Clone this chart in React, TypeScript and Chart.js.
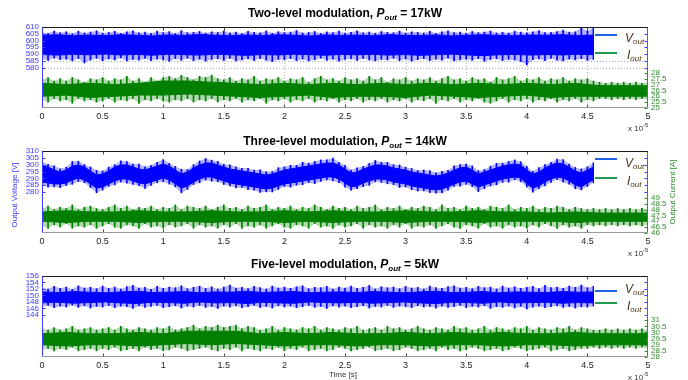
import React, { useEffect, useRef } from "react";
import { Chart, registerables } from "chart.js";

Chart.register(...registerables);

// ---------------- data ----------------
const X_TICKS = [0, 0.5, 1, 1.5, 2, 2.5, 3, 3.5, 4, 4.5, 5];
const STEP_FINE = 0.05; // sampling grid of the envelopes (x 10^-5 s)
const STEP_V_CORE = 0.13;
const STEP_V2_CORE = 0.05;
const STEP_I_CORE = 0.2;

// Plot 1 : Two-level modulation, 17 kW
const TITLE_1 = "Two-level modulation, ";
const POWER_1 = "17kW";
const V1_TICKS = [580, 585, 590, 595, 600, 605, 610];
const I1_TICKS = [25, 25.5, 26, 26.5, 27, 27.5, 28];
const V1_CORE_HI = [603.8,604.2,603.5,604.0,603.6,604.3,603.9,603.4,604.1,603.7,604.4,603.8,603.5,604.0,603.6,604.2,603.9,603.3,604.1,603.7,604.0,603.5,604.3,603.8,603.6,604.1,603.4,603.9,604.2,603.7,603.5,604.0,603.8,604.3,603.6,603.9];
const V1_CORE_LO = [589.6,589.2,589.8,589.4,590.0,589.3,589.7,589.1,589.9,589.5,589.2,589.8,589.4,589.0,589.6,589.3,589.9,589.5,589.1,589.7,589.4,589.8,589.2,589.6,589.0,589.5,589.9,589.3,588.8,589.4,589.7,589.2,589.6,589.3,589.8,589.5];
const V1_PEAK_HI = [606.2,605.4,607.0,605.8,606.5,605.1,606.9,605.6,606.3,607.2,605.5,606.0,606.8,605.3,606.4,607.1,605.7,606.2,605.4,606.9,605.9,606.6,605.2,607.3,605.8,606.1,606.7,605.5,606.4,605.9,607.0,605.6,606.3,605.2,606.8,606.0,605.7,607.1,605.4,606.5,605.9,606.2,607.4,605.6,606.0,606.7,605.3,606.4,605.8,606.9,605.5,606.1,607.2,605.7,606.3,605.4,606.6,606.0,605.8,607.0,605.5,606.4,606.1,605.6,606.8,605.3,606.5,607.1,605.9,606.2,605.4,606.7,605.8,606.3,607.0,605.6,606.1,605.5,606.9,606.2,605.7,606.4,607.3,605.9,606.0,606.6,607.8,606.2,606.5,609.6,607.1,609.9];
const V1_PEAK_LO = [586.4,585.2,587.0,585.8,586.1,584.9,586.6,583.3,585.5,586.8,585.0,586.3,585.6,587.1,584.8,586.0,585.4,586.7,585.1,586.2,585.7,584.6,586.5,585.3,586.9,585.0,586.1,584.7,585.9,586.4,585.2,586.8,584.9,585.6,586.3,585.1,586.6,585.4,584.5,586.0,585.8,586.5,585.0,586.2,584.8,585.7,586.9,585.3,586.1,584.6,585.9,586.4,585.2,586.7,585.5,584.9,586.0,585.6,586.8,585.1,586.3,584.7,585.8,586.5,585.0,586.2,585.4,586.9,584.8,585.7,586.1,585.3,586.6,584.6,585.9,586.4,585.1,586.0,585.5,584.4,581.9,585.8,586.3,585.0,586.7,585.4,584.9,586.2,585.6,586.5,585.3,586.0];
const I1_CORE_HI = [27.1,27.0,27.1,27.0,27.1,27.3,27.3,27.2,27.1,27.0,27.1,27.0,27.1,27.0,27.1,27.0,27.1,27.0,27.1,27.0,27.1,27.0,27.1,26.9,26.9,26.9];
const I1_CORE_LO = [26.0,26.1,25.9,26.0,26.1,26.1,26.2,26.1,26.0,25.9,26.0,26.1,25.9,26.0,26.0,25.9,26.1,26.0,25.9,26.0,26.1,25.9,26.0,26.0,26.0,26.0];
const I1_PEAK_HI = [27.4,27.6,27.3,27.5,27.3,27.6,27.4,27.2,27.5,27.4,27.6,27.3,27.5,27.4,27.7,27.3,27.5,27.2,27.6,27.3,27.6,27.7,27.5,27.8,27.6,27.4,27.7,27.6,27.8,27.5,27.4,27.6,27.3,27.5,27.4,27.7,27.3,27.5,27.4,27.6,27.3,27.5,27.4,27.6,27.2,27.5,27.7,27.4,27.5,27.3,27.6,27.4,27.5,27.3,27.7,27.4,27.6,27.2,27.5,27.4,27.6,27.3,27.5,27.4,27.6,27.3,27.5,27.7,27.4,27.5,27.3,27.6,27.4,27.5,27.2,27.6,27.4,27.5,27.7,27.3,27.5,27.4,27.6,27.3,27.5,27.4,27.6,27.3,27.5,27.4,27.5,27.3,27.2,27.1,27.2,27.1,27.2,27.1,27.2,27.1,27.2];
const I1_PEAK_LO = [25.7,25.5,25.8,25.6,25.7,25.4,25.8,25.6,25.7,25.5,25.6,25.8,25.5,25.7,25.6,25.8,25.4,25.7,25.6,25.8,25.6,25.5,25.7,25.6,25.8,25.5,25.7,25.6,25.8,25.5,25.7,25.6,25.8,25.5,25.7,25.6,25.8,25.4,25.7,25.6,25.8,25.5,25.7,25.6,25.8,25.5,25.7,25.6,25.8,25.5,25.7,25.6,25.8,25.5,25.7,25.6,25.8,25.5,25.7,25.6,25.8,25.5,25.7,25.6,25.8,25.4,25.7,25.6,25.8,25.5,25.7,25.6,25.8,25.5,25.4,25.6,25.8,25.5,25.7,25.6,25.8,25.5,25.7,25.6,25.8,25.5,25.7,25.6,25.8,25.5,25.7,25.6,25.8,25.8,25.7,25.8,25.7,25.8,25.7,25.8,25.7];

// Plot 2 : Three-level modulation, 14 kW
const TITLE_2 = "Three-level modulation, ";
const POWER_2 = "14kW";
const V2_TICKS = [280, 285, 290, 295, 300, 305, 310];
const I2_TICKS = [46, 46.5, 47, 47.5, 48, 48.5, 49];
const V2_CORE_HI = [299.8,298.3,296.1,294.6,296.1,299.0,299.8,298.3,295.4,292.4,293.2,295.4,298.3,299.8,299.8,298.3,296.8,296.1,297.6,299.0,300.5,299.0,296.1,293.2,294.6,297.6,299.8,301.2,301.2,299.8,298.3,296.8,296.1,295.4,294.6,293.9,293.2,292.4,293.2,294.6,296.1,296.8,297.6,298.3,299.0,299.8,300.5,301.2,301.2,299.8,296.8,293.9,294.6,296.8,298.3,299.8,299.8,299.0,297.6,296.8,296.1,294.6,293.9,293.2,292.4,291.7,292.4,293.9,296.1,297.6,298.3,296.1,293.2,294.6,296.1,297.6,299.0,299.8,300.5,299.8,296.1,293.2,294.6,297.6,299.8,301.2,300.5,298.3,295.4,293.9,296.1,298.3];
const V2_CORE_LO = [287.3,286.6,285.9,285.9,286.6,288.8,290.2,288.8,285.9,282.9,283.7,285.9,288.1,289.5,289.5,288.1,286.6,285.9,287.3,288.8,290.2,288.8,285.9,282.9,284.4,287.3,289.5,291.0,291.0,289.5,288.1,286.6,285.9,285.1,284.4,283.7,282.9,282.2,282.9,284.4,285.9,286.6,287.3,288.1,288.8,289.5,290.2,291.0,291.0,289.5,286.6,283.7,284.4,286.6,288.1,289.5,289.5,288.8,287.3,286.6,285.9,284.4,283.7,282.9,282.2,281.5,282.2,283.7,285.9,287.3,288.1,285.9,283.7,285.1,286.6,288.1,289.5,290.2,291.0,290.2,285.9,282.9,284.4,287.3,289.5,291.0,290.2,288.1,285.1,283.7,286.6,288.8];
const V2_PEAK_HI = [302.4,300.2,299.2,297.0,298.1,302.3,302.5,300.1,298.3,295.8,295.4,298.2,300.0,302.8,302.3,300.4,300.4,298.4,299.5,301.7,303.7,301.0,298.7,296.7,296.4,300.0,302.7,304.5,303.3,302.4,300.3,299.9,298.5,297.3,297.4,296.1,296.2,294.9,295.0,297.8,298.4,299.5,299.5,301.7,301.1,302.4,303.5,303.6,304.8,301.8,299.6,296.1,297.7,298.7,300.9,303.1,301.8,301.7,300.0,299.8,298.2,297.2,295.7,296.1,295.6,294.0,295.1,295.9,299.2,300.1,300.5,299.1,295.6,296.5,298.9,301.0,301.1,302.4,303.5,302.1,298.8,295.2,297.8,300.1,301.7,304.0,303.8,300.5,298.0,296.9,298.5,301.4];
const V2_PEAK_LO = [284.9,283.6,283.8,283.2,284.7,285.6,287.7,286.8,283.1,279.4,281.4,284.1,285.2,287.3,286.4,285.5,284.6,282.6,284.9,286.9,287.5,285.8,283.7,279.3,281.9,285.4,286.7,288.7,287.9,287.5,285.5,284.4,282.9,283.3,281.7,281.3,279.7,280.1,280.0,281.9,284.0,283.5,285.0,285.3,286.8,286.1,287.7,288.8,288.1,286.9,283.6,281.3,282.5,283.9,284.9,287.4,287.0,286.0,285.3,283.3,283.7,281.7,280.7,280.8,279.6,279.2,279.3,281.3,284.1,284.2,285.6,283.9,280.3,282.5,284.4,285.2,287.1,287.2,288.9,287.5,283.6,279.8,282.4,284.5,287.0,289.1,287.2,285.7,282.4,281.5,284.0,286.8];
const I2_CORE_HI = [47.8,47.9,47.8,47.8,47.9,47.8,47.8,47.9,47.8,47.8,47.9,47.8,47.9,47.8,47.8,47.9,47.8,47.8,47.9,47.8,47.8,47.7,47.8,47.7,47.7,47.7];
const I2_CORE_LO = [47.0,46.9,47.0,47.0,46.9,47.0,47.0,46.9,47.0,47.0,46.9,47.0,46.9,47.0,47.0,46.9,47.0,47.0,46.9,47.0,47.0,47.0,46.9,47.0,47.0,47.0];
const I2_PEAK_HI = [48.1,48.3,48.0,48.2,48.1,48.4,48.0,48.2,48.3,48.1,48.0,48.2,48.4,48.1,48.3,48.0,48.2,48.1,48.3,48.0,48.2,48.1,48.4,48.0,48.3,48.2,48.1,48.3,48.0,48.2,48.4,48.1,48.2,48.0,48.3,48.1,48.2,48.4,48.0,48.2,48.1,48.3,48.0,48.2,48.1,48.4,48.2,48.0,48.3,48.1,48.2,48.0,48.3,48.1,48.2,48.4,48.0,48.2,48.1,48.3,48.0,48.2,48.1,48.3,48.2,48.0,48.4,48.1,48.2,48.0,48.3,48.1,48.2,48.0,48.3,48.2,48.1,48.4,48.0,48.2,48.1,48.3,48.0,48.2,48.1,48.3,48.2,48.0,48.2,48.1,48.0,48.1,48.0,48.1,48.0,48.1,48.0,48.1,48.0,48.1,48.0];
const I2_PEAK_LO = [46.6,46.4,46.7,46.5,46.8,46.4,46.6,46.5,46.7,46.4,46.6,46.8,46.5,46.4,46.7,46.6,46.4,46.8,46.5,46.6,46.4,46.7,46.5,46.6,46.8,46.4,46.7,46.5,46.6,46.4,46.7,46.5,46.8,46.4,46.6,46.5,46.7,46.4,46.6,46.8,46.5,46.4,46.7,46.6,46.4,46.8,46.5,46.6,46.4,46.7,46.5,46.6,46.8,46.4,46.7,46.5,46.6,46.4,46.7,46.5,46.8,46.4,46.6,46.5,46.7,46.4,46.6,46.8,46.5,46.4,46.7,46.6,46.4,46.8,46.5,46.6,46.4,46.7,46.5,46.6,46.4,46.7,46.5,46.8,46.6,46.4,46.7,46.5,46.6,46.4,46.7,46.6,46.7,46.6,46.7,46.6,46.7,46.6,46.7,46.6,46.7];

// Plot 3 : Five-level modulation, 5 kW
const TITLE_3 = "Five-level modulation, ";
const POWER_3 = "5kW";
const V3_TICKS = [144, 146, 148, 150, 152, 154, 156];
const I3_TICKS = [28, 28.5, 29, 29.5, 30, 30.5, 31];
const V3_CORE_HI = [151.1,150.9,151.2,151.0,150.8,151.1,151.3,150.9,151.0,151.2,150.8,151.1,151.0,151.3,150.9,151.1,151.2,150.8,151.0,151.1,150.9,151.2,151.0,150.8,151.1,151.3,150.9,151.0,151.2,150.8,151.1,151.0,150.9,151.2,151.0,151.1];
const V3_CORE_LO = [147.7,147.9,147.6,147.8,148.0,147.7,147.5,147.9,147.8,147.6,148.0,147.7,147.8,147.5,147.9,147.7,147.6,148.0,147.8,147.7,147.9,147.6,147.8,148.0,147.7,147.5,147.9,147.8,147.6,148.0,147.7,147.8,147.9,147.6,147.8,147.7];
const V3_PEAK_HI = [152.4,152.0,152.8,152.2,152.6,151.9,153.0,152.3,152.5,152.1,152.9,152.2,152.6,152.0,152.7,153.1,152.3,152.5,151.9,152.8,152.2,152.6,152.4,153.0,152.1,152.5,152.9,152.2,152.7,152.0,152.6,153.2,152.3,152.5,152.1,152.8,152.4,152.0,152.9,152.3,152.6,152.2,152.7,153.0,152.1,152.5,152.4,152.8,152.0,152.6,152.3,152.9,152.2,152.5,153.1,152.0,152.7,152.4,152.6,152.1,152.8,152.3,152.5,152.0,152.9,152.4,152.2,152.7,153.0,152.3,152.5,152.1,152.8,152.4,152.6,152.0,152.9,152.3,152.7,152.2,152.5,152.8,152.1,153.1,152.4,152.6,152.2,152.9,152.5,153.2,152.4,152.8];
const V3_PEAK_LO = [146.5,146.9,146.2,146.7,146.4,147.0,146.3,146.8,146.1,146.6,146.4,146.9,146.2,146.7,146.5,146.0,146.8,146.3,146.6,146.9,146.2,146.5,146.8,146.1,146.7,146.4,146.9,146.3,146.6,146.0,146.7,146.4,146.8,146.2,146.5,146.9,146.3,146.6,146.1,146.8,146.4,146.7,146.2,146.5,146.9,146.3,146.6,146.0,146.8,146.4,146.7,146.2,146.5,146.8,146.1,146.6,146.4,146.9,146.3,146.7,146.5,146.2,146.8,146.4,146.6,146.1,146.7,146.3,146.5,146.9,146.2,146.6,146.4,146.8,146.0,146.5,146.3,146.7,146.1,146.6,145.8,146.4,146.7,146.2,146.5,146.8,146.3,146.6,146.1,146.5,146.4,146.7];
const I3_CORE_HI = [29.9,30.0,29.9,29.9,30.0,29.9,30.1,30.1,30.1,29.9,30.0,29.9,30.0,29.9,29.9,30.0,29.9,30.0,29.9,30.0,29.9,29.9,30.0,29.9,29.9,29.9];
const I3_CORE_LO = [29.0,28.9,29.0,29.0,28.9,29.0,29.1,29.0,29.1,29.0,28.9,29.0,29.0,28.9,29.0,29.0,28.9,29.0,29.0,28.9,29.0,29.0,28.9,29.0,29.0,29.0];
const I3_PEAK_HI = [30.3,30.2,30.4,30.2,30.3,30.5,30.2,30.3,30.4,30.2,30.3,30.4,30.2,30.5,30.3,30.2,30.4,30.3,30.2,30.4,30.3,30.5,30.2,30.3,30.4,30.6,30.3,30.5,30.4,30.6,30.4,30.5,30.6,30.3,30.5,30.4,30.2,30.3,30.5,30.2,30.4,30.3,30.2,30.4,30.3,30.5,30.2,30.4,30.3,30.2,30.4,30.3,30.5,30.2,30.3,30.4,30.2,30.5,30.3,30.4,30.2,30.3,30.5,30.3,30.2,30.4,30.3,30.2,30.5,30.3,30.4,30.2,30.3,30.5,30.2,30.4,30.3,30.2,30.4,30.3,30.5,30.2,30.4,30.3,30.2,30.4,30.3,30.5,30.2,30.4,30.3,30.2,30.2,30.3,30.2,30.3,30.2,30.3,30.2,30.3,30.2];
const I3_PEAK_LO = [28.6,28.7,28.5,28.7,28.6,28.8,28.5,28.6,28.7,28.5,28.7,28.6,28.8,28.5,28.6,28.7,28.5,28.8,28.6,28.7,28.5,28.6,28.8,28.7,28.5,28.6,28.7,28.8,28.6,28.5,28.7,28.6,28.8,28.5,28.7,28.6,28.5,28.7,28.6,28.8,28.5,28.7,28.6,28.8,28.5,28.6,28.7,28.5,28.6,28.8,28.7,28.5,28.6,28.7,28.8,28.5,28.6,28.7,28.5,28.6,28.8,28.7,28.5,28.6,28.7,28.5,28.8,28.6,28.7,28.5,28.6,28.8,28.7,28.5,28.6,28.7,28.5,28.6,28.8,28.7,28.5,28.6,28.7,28.8,28.5,28.6,28.7,28.5,28.6,28.7,28.7,28.8,28.7,28.8,28.7,28.8,28.7,28.8,28.7,28.8,28.7];

// ---------------- styles ----------------
const FONT = "'Liberation Sans', Arial, Helvetica, sans-serif";
const BLUE = "#0000ff";
const BLUE_HALO = "rgba(0,0,255,0.3)";
const GREEN = "#007f00";
const GREEN_HALO = "rgba(0,127,0,0.3)";
const BLUE_AXIS = "#3b3bff";
const GREEN_AXIS = "#2f8f2f";
const LEG_BLUE = "#1f5fe8";
const LEG_GREEN = "#1f9a4f";
const LEG_TEXT = "#4a3414";

const PLOTS = [
  { id: 1, top: 0, height: 134, padTop: 27, xAxisH: 26, title: TITLE_1, power: POWER_1, titleDy: -10,
    vMin: 550, vMax: 610, iMin: 25, iMax: 31.9, vTicks: V1_TICKS, iTicks: I1_TICKS, grid: true,
    vCoreHi: V1_CORE_HI, vCoreLo: V1_CORE_LO, vCoreStep: STEP_V_CORE, vPeakHi: V1_PEAK_HI, vPeakLo: V1_PEAK_LO,
    iCoreHi: I1_CORE_HI, iCoreLo: I1_CORE_LO, iPeakHi: I1_PEAK_HI, iPeakLo: I1_PEAK_LO,
    leg: [8, 26, 15, 32], axisTitles: false, timeLabel: false },
  { id: 2, top: 134, height: 122, padTop: 17, xAxisH: 23, title: TITLE_2, power: POWER_2, titleDy: -6,
    vMin: 250, vMax: 310, iMin: 46, iMax: 53, vTicks: V2_TICKS, iTicks: I2_TICKS, grid: false,
    vCoreHi: V2_CORE_HI, vCoreLo: V2_CORE_LO, vCoreStep: STEP_V2_CORE, vPeakHi: V2_PEAK_HI, vPeakLo: V2_PEAK_LO,
    iCoreHi: I2_CORE_HI, iCoreLo: I2_CORE_LO, iPeakHi: I2_PEAK_HI, iPeakLo: I2_PEAK_LO,
    leg: [8, 27, 16, 34], axisTitles: true, timeLabel: false },
  { id: 3, top: 256, height: 124, padTop: 20, xAxisH: 23, title: TITLE_3, power: POWER_3, titleDy: -8,
    vMin: 131, vMax: 156, iMin: 28, iMax: 34.6, vTicks: V3_TICKS, iTicks: I3_TICKS, grid: false,
    vCoreHi: V3_CORE_HI, vCoreLo: V3_CORE_LO, vCoreStep: STEP_V_CORE, vPeakHi: V3_PEAK_HI, vPeakLo: V3_PEAK_LO,
    iCoreHi: I3_CORE_HI, iCoreLo: I3_CORE_LO, iPeakHi: I3_PEAK_HI, iPeakLo: I3_PEAK_LO,
    leg: [15, 27, 17, 34], axisTitles: false, timeLabel: true },
];

const pts = (arr: number[], step: number) => arr.map((y, i) => ({ x: +(i * step).toFixed(4), y }));
const bars = (lo: number[], hi: number[]) => hi.map((h, i) => ({ x: +(i * STEP_FINE).toFixed(4), y: [lo[i], h] }));

function line(ctx: CanvasRenderingContext2D, x1: number, y1: number, x2: number, y2: number) {
  ctx.beginPath();
  ctx.moveTo(x1, y1);
  ctx.lineTo(x2, y2);
  ctx.stroke();
}

function drawRuns(ctx: CanvasRenderingContext2D, runs: { t: string; f: string; dy: number }[], x0: number, base: number, align: "center" | "left") {
  let w = 0;
  runs.forEach((r) => { ctx.font = r.f; w += ctx.measureText(r.t).width; });
  let x = align === "center" ? x0 - w / 2 : x0;
  ctx.textAlign = "left";
  ctx.textBaseline = "alphabetic";
  runs.forEach((r) => { ctx.font = r.f; ctx.fillText(r.t, x, base + r.dy); x += ctx.measureText(r.t).width; });
}

function makeDecor(p: any) {
  return {
    id: "decor" + p.id,
    beforeDatasetsDraw(chart: any) {
      if (!p.grid) return;
      const { ctx, chartArea: a, scales } = chart;
      ctx.save();
      ctx.lineWidth = 1;
      ctx.setLineDash([1, 2]);
      ctx.strokeStyle = "#b4b4b4";
      X_TICKS.forEach((t) => {
        if (t <= 0 || t >= 5) return;
        const x = Math.round(scales.x.getPixelForValue(t)) + 0.5;
        line(ctx, x, a.top, x, a.bottom);
      });
      ctx.strokeStyle = "#a8a8f0";
      p.vTicks.forEach((v: number) => {
        const y = Math.round(scales.yL.getPixelForValue(v)) + 0.5;
        if (y <= a.top + 2) return;
        line(ctx, a.left, y, a.right, y);
      });
      ctx.restore();
    },
    afterDatasetsDraw(chart: any) {
      const { ctx, chartArea: a, scales } = chart;
      ctx.save();
      const [vl, il, vt, it] = p.leg;
      // legend box (white) over the plot corner
      ctx.fillStyle = "#fff";
      ctx.fillRect(594, a.top + 1, a.right - 595, Math.max(vl, il) + 7);

      ctx.lineWidth = 1;
      ctx.setLineDash([]);
      const L = Math.round(a.left) + 0.5, R = Math.round(a.right) - 0.5;
      const T = Math.round(a.top) + 0.5, B = Math.round(a.bottom) - 0.5;
      ctx.strokeStyle = "#444";
      X_TICKS.forEach((t) => {
        if (t <= 0 || t >= 5) return;
        const x = Math.round(scales.x.getPixelForValue(t)) + 0.5;
        line(ctx, x, T, x, T + 3);
        line(ctx, x, B, x, B - 3);
      });
      ctx.strokeStyle = BLUE_AXIS;
      p.vTicks.forEach((v: number) => {
        const y = Math.round(scales.yL.getPixelForValue(v)) + 0.5;
        line(ctx, L, y, L + 3, y);
        line(ctx, R, y, R - 3, y);
      });
      ctx.strokeStyle = GREEN_AXIS;
      p.iTicks.forEach((v: number) => {
        const y = Math.round(scales.yR.getPixelForValue(v)) + 0.5;
        line(ctx, R, y, R - 3, y);
      });
      ctx.strokeStyle = "#1a1a1a";
      line(ctx, L - 0.5, T, R + 0.5, T);
      ctx.strokeStyle = "#9a9a9a";
      line(ctx, L, B, R, B);
      ctx.strokeStyle = BLUE_AXIS;
      line(ctx, L, T, L, B);
      ctx.strokeStyle = GREEN_AXIS;
      line(ctx, R, T, R, B);

      // legend
      ctx.lineWidth = 2;
      ctx.strokeStyle = LEG_BLUE;
      line(ctx, 595, a.top + vl, 617, a.top + vl);
      ctx.strokeStyle = LEG_GREEN;
      line(ctx, 595, a.top + il, 617, a.top + il);
      ctx.fillStyle = LEG_TEXT;
      drawRuns(ctx, [
        { t: "V", f: `italic 12px ${FONT}`, dy: 0 },
        { t: "out", f: `italic 8px ${FONT}`, dy: 2 },
      ], 625, a.top + vt, "left");
      drawRuns(ctx, [
        { t: "I", f: `italic 12px ${FONT}`, dy: 0 },
        { t: "out", f: `italic 8px ${FONT}`, dy: 2 },
      ], 627, a.top + it, "left");
      ctx.restore();
    },
    afterDraw(chart: any) {
      const { ctx, chartArea: a } = chart;
      ctx.save();
      ctx.fillStyle = "#000";
      drawRuns(ctx, [
        { t: p.title, f: `bold 12px ${FONT}`, dy: 0 },
        { t: "P", f: `italic bold 12px ${FONT}`, dy: 0 },
        { t: "out", f: `italic bold 8px ${FONT}`, dy: 2.5 },
        { t: " = " + p.power, f: `bold 12px ${FONT}`, dy: 0 },
      ], (a.left + a.right) / 2, a.top + p.titleDy, "center");
      ctx.fillStyle = "#333";
      drawRuns(ctx, [
        { t: "x 10", f: `8px ${FONT}`, dy: 0 },
        { t: "-5", f: `6px ${FONT}`, dy: -4 },
      ], 628, a.bottom + 23, "left");
      if (p.axisTitles) {
        ctx.font = `8px ${FONT}`;
        ctx.textAlign = "center";
        ctx.textBaseline = "middle";
        ctx.save();
        ctx.fillStyle = BLUE_AXIS;
        ctx.translate(15, 61);
        ctx.rotate(-Math.PI / 2);
        ctx.fillText("Output Voltage [V]", 0, 0);
        ctx.restore();
        ctx.save();
        ctx.fillStyle = GREEN_AXIS;
        ctx.translate(673, 58);
        ctx.rotate(-Math.PI / 2);
        ctx.fillText("Output Current [A]", 0, 0);
        ctx.restore();
      }
      if (p.timeLabel) {
        ctx.fillStyle = "#333";
        ctx.font = `8px ${FONT}`;
        ctx.textAlign = "center";
        ctx.textBaseline = "alphabetic";
        ctx.fillText("Time [s]", 343, a.bottom + 20);
      }
      ctx.restore();
    },
  };
}

function lineDs(data: any[], axis: string, color: string, fill: any, border: string) {
  return { type: "line", data, yAxisID: axis, fill, backgroundColor: color, borderColor: border, borderWidth: 1, pointRadius: 0, tension: 0 };
}

function makeConfig(p: any) {
  const datasets: any[] = [
    lineDs(pts(p.vCoreHi, p.vCoreStep), "yL", BLUE, "+1", BLUE),
    lineDs(pts(p.vCoreLo, p.vCoreStep), "yL", BLUE, false, BLUE),
    { type: "bar", data: bars(p.vPeakLo, p.vPeakHi), yAxisID: "yL", backgroundColor: BLUE, barThickness: 1, grouped: false },
    lineDs(pts(p.vPeakHi, STEP_FINE), "yL", BLUE_HALO, "+1", "transparent"),
    lineDs(pts(p.vPeakLo, STEP_FINE), "yL", BLUE_HALO, false, "transparent"),
    lineDs(pts(p.iCoreHi, STEP_I_CORE), "yR", GREEN, "+1", GREEN),
    lineDs(pts(p.iCoreLo, STEP_I_CORE), "yR", GREEN, false, GREEN),
    { type: "bar", data: bars(p.iPeakLo, p.iPeakHi), yAxisID: "yR", backgroundColor: GREEN, barThickness: 1, grouped: false },
    lineDs(pts(p.iPeakHi, STEP_FINE), "yR", GREEN_HALO, "+1", "transparent"),
    lineDs(pts(p.iPeakLo, STEP_FINE), "yR", GREEN_HALO, false, "transparent"),
  ];
  const yTicks = (color: string) => ({ autoSkip: false, padding: 3, color, font: { size: 8, family: FONT }, callback: (v: any) => String(v) });
  return {
    type: "line",
    data: { datasets },
    plugins: [makeDecor(p)],
    options: {
      animation: false,
      responsive: false,
      devicePixelRatio: 1,
      events: [],
      layout: { padding: { top: p.padTop, left: 0, right: 0, bottom: 0 } },
      plugins: { legend: { display: false }, tooltip: { enabled: false }, title: { display: false } },
      scales: {
        x: {
          type: "linear", min: 0, max: 5, offset: false,
          grid: { display: false, drawTicks: false }, border: { display: false },
          afterBuildTicks: (s: any) => { s.ticks = X_TICKS.map((v) => ({ value: v })); },
          ticks: { autoSkip: false, maxRotation: 0, padding: 3, color: "#222", font: { size: 9, family: FONT }, callback: (v: any) => String(v) },
          afterFit: (s: any) => { s.height = p.xAxisH; },
        },
        yL: {
          type: "linear", position: "left", min: p.vMin, max: p.vMax,
          grid: { display: false, drawTicks: false }, border: { display: false },
          afterBuildTicks: (s: any) => { s.ticks = p.vTicks.map((v: number) => ({ value: v })); },
          ticks: yTicks(BLUE_AXIS),
          afterFit: (s: any) => { s.width = 42; },
        },
        yR: {
          type: "linear", position: "right", min: p.iMin, max: p.iMax,
          grid: { display: false, drawTicks: false }, border: { display: false },
          afterBuildTicks: (s: any) => { s.ticks = p.iTicks.map((v: number) => ({ value: v })); },
          ticks: yTicks(GREEN_AXIS),
          afterFit: (s: any) => { s.width = 40; },
        },
      },
    },
  };
}

function Panel({ p }: { p: any }) {
  const ref = useRef<HTMLCanvasElement | null>(null);
  useEffect(() => {
    if (!ref.current) return;
    const chart = new Chart(ref.current, makeConfig(p) as any);
    return () => chart.destroy();
  }, [p]);
  return (
    <canvas
      ref={ref}
      width={688}
      height={p.height}
      style={{ position: "absolute", left: 0, top: p.top, width: 688, height: p.height, display: "block" }}
    />
  );
}

export default function App() {
  return (
    <div style={{ position: "absolute", left: 0, top: 0, width: 688, height: 380, background: "#fff", overflow: "hidden" }}>
      {PLOTS.map((p) => (
        <Panel key={p.id} p={p} />
      ))}
    </div>
  );
}
